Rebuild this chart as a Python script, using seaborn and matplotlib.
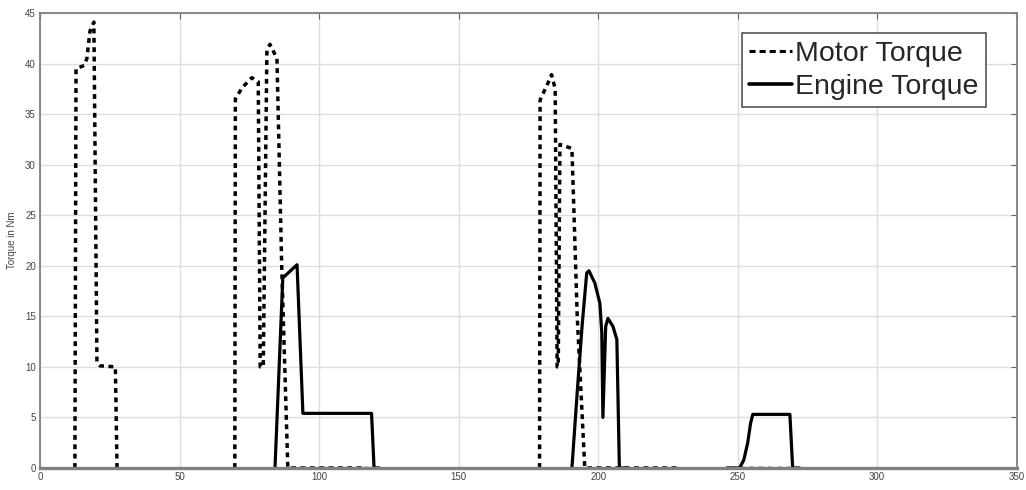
import numpy as np
import pandas as pd
import matplotlib
matplotlib.use("Agg")
import matplotlib.pyplot as plt
from matplotlib.lines import Line2D
import seaborn as sns

# Motor torque (N·m) over time (s), one list pair per driving event
motor_t1 = [12.5, 12.9, 15.8, 16.8, 17.9, 19.3, 20.4, 21.5, 27.0, 27.6]
motor_v1 = [0, 39.5, 39.8, 40.5, 43.2, 44.1, 10.5, 10.1, 10.0, 0]
motor_t2 = [69.8, 70.0, 72.4, 75.9, 78.2, 78.9, 80.0, 81.3, 82.4, 84.9, 86.6, 88.8, 117.1]
motor_v2 = [0, 36.5, 37.6, 38.6, 38.2, 10.0, 10.0, 41.3, 41.9, 40.5, 20.0, 0, 0]
motor_t3 = [179.0, 179.2, 181.9, 183.3, 184.6, 185.3, 185.7, 186.3, 190.6, 192.5, 195.2, 228.2]
motor_v3 = [0, 36.4, 38.0, 38.9, 37.5, 10.0, 10.0, 32.0, 31.6, 15.0, 0, 0]
motor_t4 = [247.2, 268.7]
motor_v4 = [0, 0]

# Engine torque (N·m) over time (s)
engine_t1 = [84.2, 87.0, 87.8, 92.1, 94.2, 118.8, 119.7, 121.5]
engine_v1 = [0, 18.8, 19.0, 20.1, 5.4, 5.4, 0, 0]
engine_t2 = [190.6, 192.5, 194.2, 195.9, 196.7, 198.8, 200.6, 201.3, 201.7,
             202.7, 203.5, 205.3, 206.7, 207.6, 210.0]
engine_v2 = [0, 7.5, 13.9, 19.3, 19.5, 18.3, 16.3, 13.4, 5.0,
             14.0, 14.8, 14.0, 12.7, 0, 0]
engine_t3 = [246.1, 250.7, 252.2, 253.6, 254.6, 255.4, 268.7, 269.7, 272.2]
engine_v3 = [0, 0, 0.8, 2.5, 4.4, 5.3, 5.3, 0, 0]

x_ticks = [0, 50, 100, 150, 200, 250, 300, 350]
y_ticks = [0, 5, 10, 15, 20, 25, 30, 35, 40, 45]
series_labels = ["Motor Torque", "Engine Torque"]
y_label = "Torque in Nm"

sns.set_style("white")
plt.rcParams["font.family"] = ["Liberation Sans", "DejaVu Sans"]

fig = plt.figure(figsize=(10.26, 4.9), dpi=100)
ax = fig.add_axes([0.039, 0.045, 0.952, 0.9285])

grid_c = "#dddddd"
ax.set_axisbelow(True)
for xv in x_ticks:
    ax.axvline(xv, color=grid_c, lw=1.0, zorder=0)
for yv in y_ticks:
    ax.axhline(yv, color=grid_c, lw=1.0, zorder=0)

motor_dash = (1.4, 1.3)
for t, v in [(motor_t1, motor_v1), (motor_t2, motor_v2),
             (motor_t3, motor_v3), (motor_t4, motor_v4)]:
    df = pd.DataFrame({"t": t, "v": v})
    sns.lineplot(data=df, x="t", y="v", ax=ax, sort=False, estimator=None,
                 color="black", lw=2.5, zorder=2)
    ax.lines[-1].set_dashes(motor_dash)

for t, v in [(engine_t1, engine_v1), (engine_t2, engine_v2), (engine_t3, engine_v3)]:
    df = pd.DataFrame({"t": t, "v": v})
    sns.lineplot(data=df, x="t", y="v", ax=ax, sort=False, estimator=None,
                 color="black", lw=2.3, zorder=2)

ax.set_xlim(0, 350)
ax.set_ylim(0, 45)
ax.set_xticks(x_ticks)
ax.set_yticks(y_ticks)
ax.set_xticklabels([str(v) for v in x_ticks])
ax.set_yticklabels([str(v) for v in y_ticks])
ax.set_xlabel("")
ax.set_ylabel(y_label, fontsize=7, color="#444444", labelpad=6)
ax.tick_params(direction="in", length=4, width=0.8, colors="#666666",
               labelsize=7, labelcolor="#444444", pad=3,
               top=True, right=True)

for name, sp in ax.spines.items():
    sp.set_visible(True)
    sp.set_color("#808080")
    sp.set_linewidth(1.3)
    sp.set_zorder(3)
ax.spines["bottom"].set_linewidth(2.4)

handles = [
    Line2D([], [], color="black", lw=2.2, dashes=(2.0, 1.3)),
    Line2D([], [], color="black", lw=2.6),
]
leg = ax.legend(handles, series_labels, loc="upper right",
                bbox_to_anchor=(0.968, 0.955), fontsize=20.5,
                handlelength=1.5, handletextpad=0.1, labelspacing=0.25,
                borderpad=0.25, borderaxespad=0.0, frameon=True, fancybox=False)
leg.get_frame().set_edgecolor("#555555")
leg.get_frame().set_linewidth(1.2)
leg.get_frame().set_alpha(1.0)

fig.savefig("out.png", dpi=100)
